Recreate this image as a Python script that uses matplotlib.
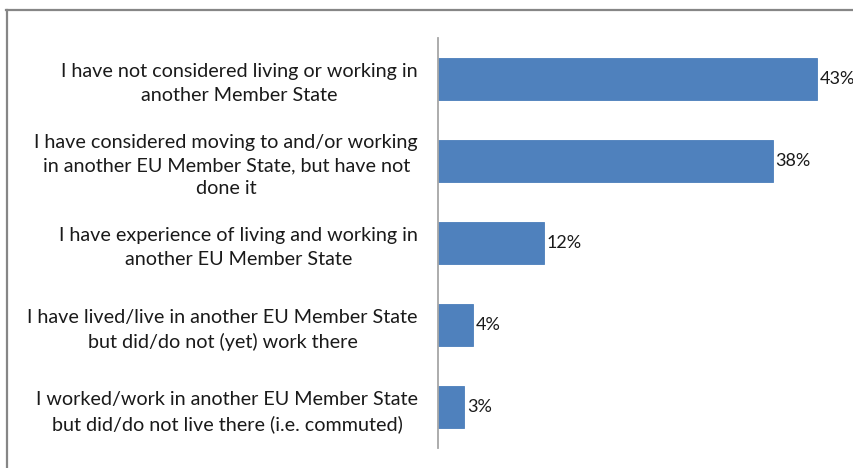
import matplotlib.pyplot as plt
from matplotlib.lines import Line2D

categories = [
    "I have not considered living or working in\nanother Member State",
    "I have considered moving to and/or working\nin another EU Member State, but have not\ndone it",
    "I have experience of living and working in\nanother EU Member State",
    "I have lived/live in another EU Member State\nbut did/do not (yet) work there",
    "I worked/work in another EU Member State\nbut did/do not live there (i.e. commuted)",
]
values = [43, 38, 12, 4, 3]

W, H = 854, 468
plt.rcParams['font.family'] = ['Lato', 'DejaVu Sans']

fig = plt.figure(figsize=(W / 100, H / 100), dpi=100)
ax = fig.add_axes([438 / W, (H - 448) / H, (W - 438) / W, 410 / H])

ypos = list(range(len(values)))
ax.barh(ypos, values, height=0.51, color='#4F81BD', edgecolor='#4A7EBB', linewidth=0.6)
for y, v in zip(ypos, values):
    ax.text(v + 0.3, y, f"{v}%", va='center', ha='left', fontsize=13, color='#1A1A1A')

ax.set_xlim(0, 47.2)
ax.set_ylim(len(values) - 0.5, -0.5)
ax.set_yticks(ypos)
ax.set_yticklabels(categories, fontsize=14.2, color='#1A1A1A', multialignment='center',
                   linespacing=1.45)
ax.tick_params(axis='y', length=0, pad=14.4)
ax.set_xticks([])
for side in ['top', 'right', 'bottom']:
    ax.spines[side].set_visible(False)
ax.spines['left'].set_color('#A6A6A6')
ax.spines['left'].set_linewidth(1.3)

# chart frame (top and left edges)
fig.add_artist(Line2D([6 / W, 1], [1 - 10 / H, 1 - 10 / H], transform=fig.transFigure,
                      color='#868686', linewidth=1.6))
fig.add_artist(Line2D([7 / W, 7 / W], [0, 1 - 10 / H], transform=fig.transFigure,
                      color='#868686', linewidth=1.6))

fig.savefig('out.png', dpi=100)
